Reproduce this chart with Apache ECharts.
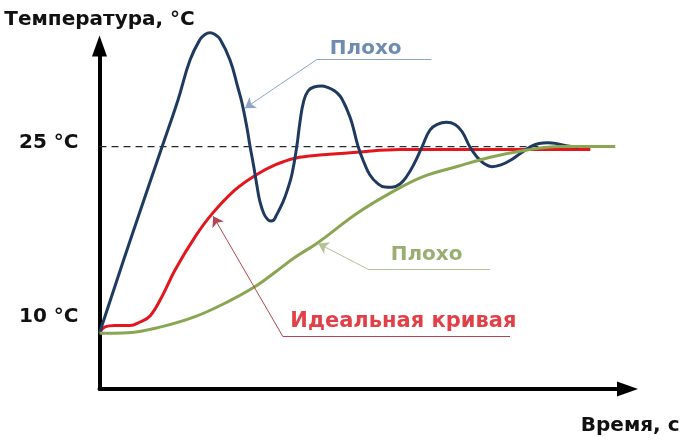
<!DOCTYPE html>
<html>
	<head>
		<meta charset="UTF-8">
		<title>Температура</title>
		<style>
			html, body { margin: 0; padding: 0; background: #fff; }
			#chart { width: 685px; height: 441px; }
		</style>
	</head>
	<body>
		<div id="chart"></div>
		<script type="text/javascript" src="https://cdn.jsdelivr.net/npm/echarts@6/dist/echarts.min.js"></script>
		<script type="text/javascript">
			// время, c / температура, °C
			var blueCurve = [
				[0, 10.0], [5.66, 17.41], [11.6, 24.97], [14.57, 28.76], [16.8, 31.97], [18.65, 33.62],
				[19.58, 34.03], [20.51, 34.17], [21.44, 34.02], [22.36, 33.66], [24.22, 31.97], [25.71, 29.72],
				[26.45, 28.51], [27.38, 26.5], [27.93, 25.05], [28.58, 23.53], [29.23, 21.84], [29.79, 20.55],
				[30.53, 19.58], [31.18, 19.16], [31.77, 19.02], [32.29, 19.08], [32.76, 19.42], [34.06, 20.55],
				[34.99, 21.67], [35.73, 22.8], [36.6, 24.97], [37.21, 26.99], [37.86, 28.59], [38.7, 29.48],
				[39.81, 29.8], [41.24, 29.88], [42.41, 29.76], [43.52, 29.52], [44.64, 29.08], [45.38, 28.51],
				[46.12, 27.79], [46.86, 26.9], [48.03, 24.97], [49.28, 23.53], [50.2, 22.72], [51.5, 22.08],
				[52.99, 21.75], [54.29, 21.73], [55.77, 22.0], [57.07, 22.64], [58.37, 23.6], [59.85, 24.97],
				[61.34, 26.34], [62.82, 26.82], [64.4, 26.96], [65.98, 26.78], [67.28, 26.22], [68.76, 24.97],
				[70.06, 24.17], [71.36, 23.65], [72.85, 23.39], [74.52, 23.53], [76.37, 23.93], [78.23, 24.49],
				[79.9, 24.97], [81.57, 25.25], [83.24, 25.32], [84.91, 25.24], [86.58, 25.07], [88.81, 24.97]
			];
			var redCurve = [
				[0, 10.0], [1.02, 10.49], [2.88, 10.61], [5.66, 10.61], [7.52, 10.89], [9.38, 11.38],
				[11.55, 12.91], [14.02, 15.08], [17.74, 17.74], [20.89, 19.59], [25.16, 21.52], [28.88, 22.68],
				[32.59, 23.53], [36.31, 24.07], [41.5, 24.34], [47.79, 24.56], [55.8, 24.78], [65.09, 24.78],
				[91.1, 24.78]
			];
			var greenCurve = [
				[0, 9.98], [5.29, 10.03], [11.6, 10.52], [17.73, 11.32], [23.86, 12.53], [28.88, 13.74],
				[33.15, 15.08], [36.3, 16.1], [40.39, 17.23], [47.82, 19.64], [53.95, 21.26], [60.07, 22.59],
				[66.39, 23.4], [72.52, 24.15], [79.39, 24.74], [85.52, 25.01], [95.73, 25.01]
			];
			var setPoint = [[0, 25], [88, 25]];
			var tempTicks = [10, 25];

			// подписи и выноски (в координатах графика)
			var notes = [
				{ text: 'Плохо', at: [49.4, 32.85], size: 20, color: '#4a6f9f', line: '#8ea6c6',
					under: [[40.3, 32.0], [61.6, 32.0]], tip: [27.0, 28.1] },
				{ text: 'Плохо', at: [60.7, 16.3], size: 20, color: '#7f9a4f', line: '#b3c294',
					under: [[49.8, 15.15], [72.5, 15.15]], tip: [40.6, 17.2] },
				{ text: 'Идеальная кривая', at: [56.4, 10.9], size: 21, color: '#dc0f18', line: '#b24652',
					under: [[34.0, 9.75], [76.2, 9.75]], tip: [21.1, 19.4] }
			];
		</script>
	</body>
</html>
<script type="text/javascript">
	var chart = echarts.init(document.getElementById('chart'), null, {renderer: 'canvas'});
	var font = '"DejaVu Sans", "Liberation Sans", Arial, sans-serif';

	var leaderLines = [];
	var noteLabels = [];
	notes.forEach(function (n) {
		leaderLines.push({
			coords: n.under,
			symbol: ['none', 'none'],
			lineStyle: {color: n.line}
		});
		leaderLines.push({
			coords: [n.under[0], n.tip],
			symbol: ['none', 'arrow'],
			lineStyle: {color: n.line}
		});
		noteLabels.push({
			value: n.at,
			label: {formatter: n.text, fontSize: n.size, color: n.color}
		});
	});

	var option = {
		animation: false,
		backgroundColor: '#fff',
		grid: {
			left: 99.5,
			right: 57.5,
			top: 46,
			bottom: 52,
			containLabel: false,
			outerBoundsMode: 'none'
		},
		xAxis: {
			type: 'value',
			min: 0,
			max: 98,
			name: 'Время, с',
			nameLocation: 'end',
			nameGap: 52,
			nameTextStyle: {
				color: '#111',
				fontFamily: font,
				fontWeight: 'bold',
				fontSize: 20,
				align: 'right',
				verticalAlign: 'top',
				padding: [27, 0, 0, 0]
			},
			axisLine: {
				show: true,
				symbol: ['none', 'triangle'],
				symbolSize: [15, 21],
				lineStyle: {color: '#000', width: 4}
			},
			axisTick: {show: false},
			axisLabel: {show: false},
			splitLine: {show: false}
		},
		yAxis: {
			type: 'value',
			min: 5.5,
			max: 33.1,
			name: 'Температура, °C',
			nameLocation: 'end',
			nameGap: 16,
			nameTextStyle: {
				color: '#111',
				fontFamily: font,
				fontWeight: 'bold',
				fontSize: 20
			},
			axisLine: {
				show: true,
				symbol: ['none', 'triangle'],
				symbolSize: [15, 21],
				lineStyle: {color: '#000', width: 4}
			},
			axisTick: {show: false},
			axisLabel: {
				show: true,
				customValues: tempTicks,
				margin: 21,
				formatter: function (v) {
					return v === 10 ? '{lo|10 °C}' : '{hi|' + v + ' °C}';
				},
				rich: {
					lo: {fontFamily: font, fontWeight: 'bold', fontSize: 20, color: '#111', padding: [0, 0, 32, 0]},
					hi: {fontFamily: font, fontWeight: 'bold', fontSize: 20, color: '#111', padding: [0, 0, 8, 0]}
				}
			},
			splitLine: {show: false}
		},
		series: [
			{
				name: 'уставка',
				type: 'line',
				data: setPoint,
				symbol: 'none',
				silent: true,
				lineStyle: {color: '#2a2a2a', width: 1.2, type: [7, 5]},
				z: 1
			},
			{
				name: 'Идеальная кривая',
				type: 'line',
				data: redCurve,
				smooth: 0.4,
				symbol: 'none',
				clip: false,
				lineStyle: {color: '#e4151d', width: 3},
				z: 3
			},
			{
				name: 'Плохо 1',
				type: 'line',
				data: blueCurve,
				smooth: 0.45,
				symbol: 'none',
				clip: false,
				lineStyle: {color: '#1f3a60', width: 3},
				z: 4
			},
			{
				name: 'Плохо 2',
				type: 'line',
				data: greenCurve,
				smooth: 0.4,
				symbol: 'none',
				clip: false,
				lineStyle: {color: '#8aa652', width: 3},
				z: 5
			},
			{
				name: 'выноски',
				type: 'lines',
				coordinateSystem: 'cartesian2d',
				symbolSize: [7, 10],
				silent: true,
				lineStyle: {width: 1, opacity: 1, curveness: 0},
				data: leaderLines,
				z: 6
			},
			{
				name: 'подписи',
				type: 'scatter',
				data: noteLabels,
				symbolSize: 1,
				silent: true,
				clip: false,
				itemStyle: {color: 'rgba(0,0,0,0)'},
				label: {
					show: true,
					position: 'inside',
					fontFamily: font,
					fontWeight: 'bold'
				},
				z: 7
			}
		]
	};
	chart.setOption(option);
	window.addEventListener('resize', function () {
		chart.resize();
	});
</script>
